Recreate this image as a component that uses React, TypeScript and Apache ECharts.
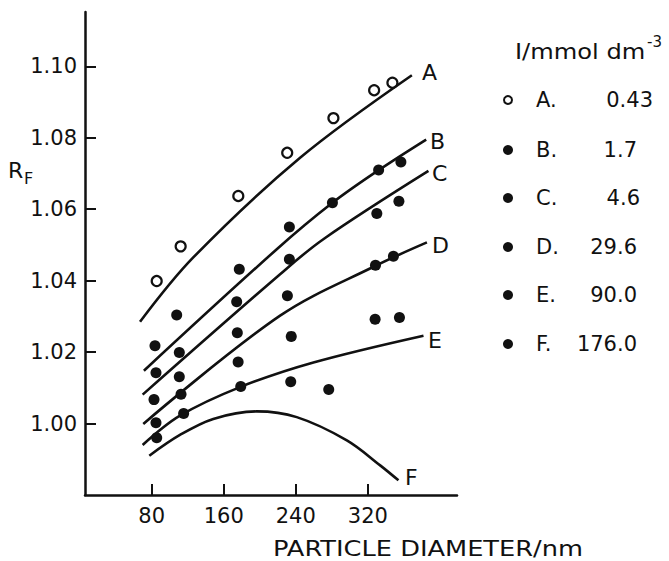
import { useEffect, useRef } from "react";
import * as echarts from "echarts";

const xTicks = [80, 160, 240, 320];
const yTicks = [1.0, 1.02, 1.04, 1.06, 1.08, 1.1];
const seriesNames = ["A", "B", "C", "D", "E", "F"];
const concentrations = ["0.43", "1.7", "4.6", "29.6", "90.0", "176.0"];

// measured points (particle diameter / nm, R_F)
const pointsA = [[85.6, 1.0399], [112.2, 1.0496], [176.2, 1.0637], [230.5, 1.0758], [281.8, 1.0855], [327, 1.0933], [347.3, 1.0954]];
const pointsB = [[83.7, 1.0218], [107.8, 1.0304], [177.3, 1.0432], [232.9, 1.055], [280.7, 1.0618], [332, 1.071], [356.7, 1.0732]];
const pointsC = [[84.8, 1.0142], [110.7, 1.0199], [174.4, 1.0341], [232.9, 1.046], [330, 1.0588], [354.5, 1.0622]];
const pointsD = [[82.6, 1.0067], [110.7, 1.0131], [175.1, 1.0254], [230.7, 1.0358], [328.5, 1.0443], [348.4, 1.0468]];
const pointsE = [[84.8, 1.0002], [112.6, 1.0082], [176, 1.0172], [235, 1.0244], [328.1, 1.0292], [355.1, 1.0297]];
const pointsF = [[85.6, 0.996], [115.5, 1.0028], [178.9, 1.0104], [234.4, 1.0117], [276.6, 1.0095]];

// fitted curves
const curveA = [[67.1, 1.0285], [126.2, 1.0465], [244.8, 1.0744], [368.9, 1.0975]];
const curveB = [[71.4, 1.0148], [218.9, 1.0488], [280.7, 1.0618], [331.8, 1.0709], [384.8, 1.0795]];
const curveC = [[70, 1.0081], [222.6, 1.0418], [270.6, 1.0516], [387.3, 1.0707]];
const curveD = [[70.7, 0.9999], [222.6, 1.0302], [328.1, 1.0441], [385.6, 1.0507]];
const curveE = [[70, 0.994], [111.4, 1.0022], [178.1, 1.0102], [259.6, 1.0171], [381.8, 1.0246]];
const curveF = [[77.4, 0.991], [111.4, 0.9968], [148.4, 1.0013], [196.7, 1.0034], [241.1, 1.0018], [296.7, 0.9953], [333.7, 0.9883], [354, 0.9841]];

const allPoints = [pointsA, pointsB, pointsC, pointsD, pointsE, pointsF];
const allCurves = [curveA, curveB, curveC, curveD, curveE, curveF];

const FONT = "DejaVu Sans";
const INK = "#111";

export default function App() {
  const ref = useRef<HTMLDivElement>(null);
  useEffect(() => {
    const chart = echarts.init(ref.current!, null, { renderer: "svg" });

    const series: any[] = [];
    allCurves.forEach((c, i) => {
      series.push({
        type: "line",
        name: "curve " + seriesNames[i],
        data: c,
        smooth: 0.35,
        showSymbol: false,
        symbol: "none",
        lineStyle: { color: INK, width: 2.6 },
        z: 2,
      });
    });
    allPoints.forEach((p, i) => {
      const open = i === 0;
      series.push({
        type: "scatter",
        name: seriesNames[i],
        data: p,
        symbol: "circle",
        symbolSize: open ? 10 : 11,
        itemStyle: open
          ? { color: "#fff", borderColor: INK, borderWidth: 2.2, opacity: 1 }
          : { color: INK, opacity: 1 },
        z: 3,
      });
    });

    const labelLeft = [422, 430, 432, 432, 428, 405];
    const labelY = [72, 141, 173, 245, 340, 477];
    const legendY = [100, 150, 198, 247, 295, 344];
    const valueRight = [653, 637, 640, 637, 637, 637];

    const graphic: any[] = [];
    seriesNames.forEach((n, i) => {
      graphic.push({
        type: "text",
        left: labelLeft[i],
        top: labelY[i] - 11,
        style: { text: n, fontFamily: FONT, fontSize: 22, fill: INK },
      });
      // legend marker
      graphic.push({
        type: "circle",
        shape: { cx: 508, cy: legendY[i], r: i === 0 ? 4 : 5 },
        style: i === 0 ? { fill: "#fff", stroke: INK, lineWidth: 2 } : { fill: INK },
      });
      graphic.push({
        type: "text",
        x: 536,
        y: legendY[i],
        style: { text: n + ".", fontFamily: FONT, fontSize: 21, fill: INK, verticalAlign: "middle", align: "left" },
      });
      graphic.push({
        type: "text",
        x: valueRight[i],
        y: legendY[i],
        style: { text: concentrations[i], fontFamily: FONT, fontSize: 21, fill: INK, verticalAlign: "middle", align: "right" },
      });
    });
    graphic.push({
      type: "text",
      x: 515,
      y: 52,
      style: { text: "I/mmol dm", fontFamily: FONT, fontSize: 21, fill: INK, verticalAlign: "middle", align: "left" },
      scaleX: 1.15,
    });
    graphic.push({
      type: "text",
      x: 647,
      y: 42,
      style: { text: "-3", fontFamily: FONT, fontSize: 15, fill: INK, verticalAlign: "middle", align: "left" },
    });
    graphic.push({
      type: "text",
      x: 8,
      y: 170,
      style: { text: "R", fontFamily: FONT, fontSize: 22, fill: INK, verticalAlign: "middle", align: "left" },
    });
    graphic.push({
      type: "text",
      x: 24,
      y: 178,
      style: { text: "F", fontFamily: FONT, fontSize: 16, fill: INK, verticalAlign: "middle", align: "left" },
    });
    graphic.push({
      type: "text",
      x: 273,
      y: 549,
      scaleX: 1.167,
      style: { text: "PARTICLE DIAMETER/nm", fontFamily: FONT, fontSize: 22, fill: INK, verticalAlign: "middle", align: "left" },
    });

    const option: any = {
      animation: false,
      backgroundColor: "#fff",
      grid: { left: 85, top: 12, width: 372, height: 483 },
      xAxis: {
        type: "value",
        min: 6,
        max: 419,
        axisLine: { onZero: false, lineStyle: { color: INK, width: 2.5 } },
        axisTick: { inside: true, length: 11, lineStyle: { color: INK, width: 2 }, customValues: xTicks },
        axisLabel: { customValues: xTicks, color: INK, fontFamily: FONT, fontSize: 21, margin: 10 },
        splitLine: { show: false },
      },
      yAxis: {
        type: "value",
        min: 0.98,
        max: 1.1152,
        axisLine: { show: true, onZero: false, lineStyle: { color: INK, width: 2.5 } },
        axisTick: { show: true, inside: true, length: 11, lineStyle: { color: INK, width: 2 }, customValues: yTicks },
        axisLabel: {
          customValues: yTicks,
          color: INK,
          fontFamily: FONT,
          fontSize: 21,
          margin: 8,
          formatter: (v: number) => v.toFixed(2),
        },
        splitLine: { show: false },
      },
      series,
      graphic,
    };
    chart.setOption(option);
    return () => chart.dispose();
  }, []);
  return (
    <div
      ref={ref}
      style={{ position: "fixed", left: 0, top: 0, width: 669, height: 561, background: "#fff" }}
    />
  );
}
